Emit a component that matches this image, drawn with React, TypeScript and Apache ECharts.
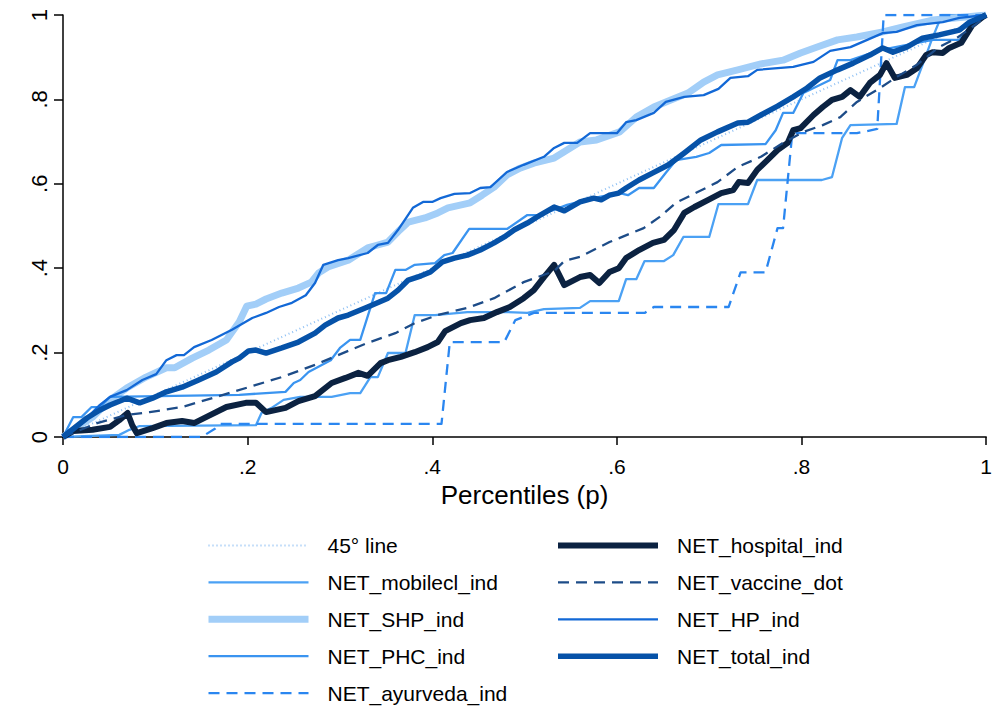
import React, { useEffect, useRef } from "react";
import * as echarts from "echarts";

const xTicks = [0, 0.2, 0.4, 0.6, 0.8, 1];
const yTicks = [0, 0.2, 0.4, 0.6, 0.8, 1];
const xTitle = "Percentiles (p)";

const line45: number[][] = [[0, 0], [1, 1]];

const mobilecl: number[][] = [
  [0, 0], [0.061, 0.005], [0.072, 0.017], [0.083, 0.026], [0.209, 0.028], [0.215, 0.057],
  [0.226, 0.069], [0.239, 0.088], [0.257, 0.095], [0.291, 0.095], [0.311, 0.104], [0.322, 0.104],
  [0.333, 0.142], [0.341, 0.142], [0.352, 0.199], [0.371, 0.199], [0.381, 0.289], [0.403, 0.289],
  [0.438, 0.296], [0.481, 0.296], [0.503, 0.294], [0.521, 0.303], [0.56, 0.306], [0.571, 0.322],
  [0.602, 0.322], [0.61, 0.374], [0.621, 0.374], [0.63, 0.417], [0.651, 0.417], [0.661, 0.431],
  [0.672, 0.474], [0.7, 0.474], [0.71, 0.552], [0.742, 0.552], [0.752, 0.609], [0.822, 0.609],
  [0.833, 0.616], [0.844, 0.709], [0.853, 0.739], [0.903, 0.742], [0.912, 0.829], [0.922, 0.829],
  [0.933, 0.893], [0.941, 0.941], [0.952, 1.0], [1, 1],
];

const shp: number[][] = [
  [0, 0], [0.032, 0.047], [0.051, 0.088], [0.069, 0.116], [0.09, 0.142], [0.112, 0.164],
  [0.121, 0.164], [0.14, 0.187], [0.158, 0.206], [0.177, 0.23], [0.191, 0.273], [0.199, 0.31],
  [0.209, 0.315], [0.22, 0.327], [0.237, 0.341], [0.255, 0.353], [0.269, 0.367], [0.277, 0.389],
  [0.287, 0.403], [0.309, 0.419], [0.33, 0.448], [0.341, 0.455], [0.352, 0.462], [0.365, 0.491],
  [0.374, 0.509], [0.392, 0.519], [0.406, 0.531], [0.417, 0.543], [0.441, 0.555], [0.454, 0.573],
  [0.467, 0.592], [0.481, 0.621], [0.495, 0.637], [0.51, 0.649], [0.532, 0.661], [0.546, 0.68],
  [0.56, 0.699], [0.578, 0.704], [0.603, 0.723], [0.621, 0.758], [0.64, 0.782], [0.659, 0.799],
  [0.677, 0.815], [0.694, 0.841], [0.709, 0.858], [0.731, 0.87], [0.756, 0.884], [0.78, 0.893],
  [0.799, 0.91], [0.817, 0.924], [0.839, 0.941], [0.86, 0.948], [0.888, 0.96], [0.91, 0.972],
  [0.942, 0.988], [0.978, 0.995], [1, 1],
];

const phc: number[][] = [
  [0, 0], [0.011, 0.047], [0.02, 0.047], [0.031, 0.071], [0.04, 0.071], [0.051, 0.095],
  [0.191, 0.1], [0.241, 0.107], [0.25, 0.128], [0.257, 0.135], [0.266, 0.154], [0.29, 0.182],
  [0.3, 0.211], [0.311, 0.23], [0.322, 0.23], [0.338, 0.341], [0.35, 0.341], [0.36, 0.396],
  [0.371, 0.396], [0.381, 0.408], [0.403, 0.412], [0.413, 0.431], [0.422, 0.436], [0.44, 0.493],
  [0.481, 0.493], [0.503, 0.526], [0.517, 0.526], [0.546, 0.55], [0.581, 0.569], [0.603, 0.578],
  [0.612, 0.573], [0.624, 0.59], [0.64, 0.59], [0.653, 0.626], [0.664, 0.656], [0.686, 0.664],
  [0.7, 0.673], [0.713, 0.692], [0.761, 0.694], [0.772, 0.727], [0.78, 0.768], [0.791, 0.768],
  [0.802, 0.815], [0.831, 0.846], [0.839, 0.893], [0.853, 0.893], [0.885, 0.917], [0.942, 0.941],
  [0.971, 0.941], [0.982, 0.972], [1, 1],
];

const ayurveda: number[][] = [
  [0, 0], [0.15, 0], [0.165, 0.02], [0.17, 0.031], [0.41, 0.031], [0.419, 0.225], [0.478, 0.225],
  [0.49, 0.277], [0.51, 0.294], [0.63, 0.294], [0.64, 0.308], [0.721, 0.308], [0.734, 0.39],
  [0.761, 0.39], [0.774, 0.495], [0.78, 0.495], [0.79, 0.72], [0.86, 0.72], [0.882, 0.73],
  [0.889, 1.0], [1, 1],
];

const hospital: number[][] = [
  [0, 0], [0.011, 0.014], [0.032, 0.017], [0.051, 0.024], [0.061, 0.04], [0.07, 0.057],
  [0.075, 0.028], [0.08, 0.009], [0.097, 0.021], [0.112, 0.033], [0.129, 0.038], [0.142, 0.033],
  [0.155, 0.047], [0.177, 0.071], [0.198, 0.081], [0.209, 0.081], [0.22, 0.059], [0.241, 0.069],
  [0.255, 0.085], [0.273, 0.097], [0.291, 0.128], [0.306, 0.14], [0.32, 0.152], [0.33, 0.145],
  [0.344, 0.175], [0.352, 0.182], [0.366, 0.19], [0.381, 0.201], [0.395, 0.213], [0.406, 0.225],
  [0.414, 0.251], [0.431, 0.27], [0.441, 0.277], [0.456, 0.282], [0.47, 0.296], [0.484, 0.308],
  [0.499, 0.329], [0.51, 0.348], [0.521, 0.379], [0.532, 0.408], [0.543, 0.36], [0.56, 0.379],
  [0.571, 0.384], [0.581, 0.365], [0.592, 0.391], [0.602, 0.4], [0.61, 0.424], [0.624, 0.443],
  [0.639, 0.46], [0.651, 0.467], [0.662, 0.491], [0.673, 0.531], [0.684, 0.545], [0.699, 0.562],
  [0.713, 0.578], [0.726, 0.585], [0.732, 0.604], [0.742, 0.602], [0.752, 0.633], [0.763, 0.656],
  [0.774, 0.68], [0.785, 0.697], [0.791, 0.727], [0.799, 0.732], [0.813, 0.763], [0.823, 0.782],
  [0.833, 0.799], [0.844, 0.806], [0.853, 0.822], [0.863, 0.806], [0.874, 0.839], [0.885, 0.858],
  [0.892, 0.886], [0.901, 0.851], [0.914, 0.858], [0.925, 0.874], [0.935, 0.905], [0.942, 0.912],
  [0.953, 0.91], [0.96, 0.922], [0.973, 0.934], [0.985, 0.976], [0.996, 0.995], [1, 1],
];

const vaccine: number[][] = [
  [0, 0], [0.037, 0.033], [0.069, 0.052], [0.094, 0.059], [0.129, 0.071], [0.166, 0.095],
  [0.201, 0.118], [0.237, 0.142], [0.273, 0.171], [0.298, 0.194], [0.33, 0.223], [0.36, 0.246],
  [0.381, 0.27], [0.406, 0.289], [0.438, 0.306], [0.467, 0.329], [0.499, 0.367], [0.532, 0.393],
  [0.543, 0.417], [0.56, 0.427], [0.592, 0.462], [0.629, 0.495], [0.646, 0.521], [0.664, 0.555],
  [0.688, 0.581], [0.709, 0.604], [0.731, 0.64], [0.756, 0.664], [0.78, 0.697], [0.802, 0.723],
  [0.823, 0.739], [0.842, 0.758], [0.86, 0.794], [0.885, 0.827], [0.903, 0.853], [0.925, 0.882],
  [0.949, 0.924], [0.968, 0.945], [0.992, 0.983], [1, 1],
];

const hp: number[][] = [
  [0, 0], [0.016, 0.028], [0.029, 0.052], [0.04, 0.076], [0.051, 0.095], [0.069, 0.111],
  [0.086, 0.135], [0.101, 0.149], [0.112, 0.182], [0.123, 0.194], [0.131, 0.194], [0.142, 0.213],
  [0.161, 0.23], [0.183, 0.254], [0.205, 0.282], [0.22, 0.294], [0.234, 0.308], [0.248, 0.318],
  [0.263, 0.336], [0.273, 0.365], [0.282, 0.408], [0.298, 0.419], [0.309, 0.424], [0.33, 0.436],
  [0.341, 0.455], [0.352, 0.46], [0.363, 0.491], [0.379, 0.543], [0.39, 0.557], [0.4, 0.557],
  [0.409, 0.566], [0.424, 0.576], [0.441, 0.578], [0.452, 0.59], [0.463, 0.592], [0.481, 0.628],
  [0.499, 0.645], [0.521, 0.664], [0.532, 0.685], [0.543, 0.697], [0.557, 0.697], [0.571, 0.72],
  [0.6, 0.72], [0.61, 0.746], [0.621, 0.751], [0.64, 0.768], [0.653, 0.794], [0.673, 0.806],
  [0.694, 0.81], [0.71, 0.825], [0.723, 0.851], [0.742, 0.855], [0.752, 0.87], [0.791, 0.877],
  [0.813, 0.889], [0.831, 0.915], [0.853, 0.924], [0.888, 0.957], [0.903, 0.96], [0.925, 0.976],
  [0.953, 0.983], [0.971, 0.993], [1, 1],
];

const total: number[][] = [
  [0, 0], [0.026, 0.045], [0.04, 0.064], [0.051, 0.076], [0.069, 0.092], [0.083, 0.081],
  [0.097, 0.092], [0.112, 0.107], [0.129, 0.118], [0.147, 0.135], [0.166, 0.154], [0.183, 0.178],
  [0.191, 0.187], [0.201, 0.204], [0.209, 0.206], [0.22, 0.199], [0.237, 0.211], [0.255, 0.225],
  [0.273, 0.246], [0.284, 0.265], [0.298, 0.282], [0.309, 0.289], [0.33, 0.308], [0.352, 0.329],
  [0.363, 0.348], [0.374, 0.372], [0.388, 0.382], [0.398, 0.391], [0.411, 0.415], [0.424, 0.424],
  [0.438, 0.431], [0.452, 0.443], [0.467, 0.46], [0.478, 0.474], [0.489, 0.491], [0.503, 0.507],
  [0.517, 0.526], [0.532, 0.545], [0.543, 0.536], [0.56, 0.557], [0.575, 0.566], [0.583, 0.562],
  [0.592, 0.573], [0.602, 0.578], [0.61, 0.59], [0.624, 0.609], [0.639, 0.626], [0.656, 0.645],
  [0.673, 0.673], [0.691, 0.704], [0.709, 0.723], [0.731, 0.744], [0.742, 0.746], [0.756, 0.763],
  [0.774, 0.784], [0.791, 0.806], [0.806, 0.827], [0.82, 0.851], [0.839, 0.87], [0.856, 0.886],
  [0.874, 0.905], [0.888, 0.922], [0.899, 0.912], [0.914, 0.924], [0.931, 0.945], [0.949, 0.953],
  [0.971, 0.964], [0.982, 0.983], [1, 1],
];

const seriesNames = [
  "45° line", "NET_mobilecl_ind", "NET_SHP_ind", "NET_PHC_ind", "NET_ayurveda_ind",
  "NET_hospital_ind", "NET_vaccine_dot", "NET_HP_ind", "NET_total_ind",
];
const seriesData = [line45, mobilecl, shp, phc, ayurveda, hospital, vaccine, hp, total];
const seriesColors = [
  "#8ec0f4", "#4ba1f4", "#a2cef8", "#3a94f0", "#2a86f0", "#0b2241", "#1d4c88", "#1268d6", "#0652a8",
];
const seriesWidths = [2, 2.3, 7, 2.3, 2.3, 6, 2.3, 2.3, 5.5];
const seriesTypes: any[] = [
  [1, 3], "solid", "solid", "solid", [11, 7], "solid", [11, 7], "solid", "solid",
];

const FONT = "'Liberation Sans', Arial, Helvetica, sans-serif";

function fmt(v: number): string {
  if (v === 0) return "0";
  if (v === 1) return "1";
  return String(Math.round(v * 10) / 10).replace(/^0/, "");
}

export default function App() {
  const ref = useRef<HTMLDivElement>(null);
  useEffect(() => {
    if (!ref.current) return;
    const chart = echarts.init(ref.current, undefined, { renderer: "svg" });
    const series = seriesNames.map((name, i) => ({
      name,
      type: "line",
      data: seriesData[i],
      showSymbol: false,
      symbol: "none",
      smooth: false,
      lineStyle: { color: seriesColors[i], width: seriesWidths[i], type: seriesTypes[i], cap: "butt", join: "round" },
      itemStyle: { color: seriesColors[i] },
      z: 2 + i,
      silent: true,
    }));
    const legendItem = (i: number) => ({
      name: seriesNames[i],
      lineStyle: { color: seriesColors[i], width: seriesWidths[i], type: seriesTypes[i] },
    });
    const legendBase = {
      orient: "vertical",
      padding: 0,
      itemWidth: 100,
      itemHeight: 14,
      itemGap: 15.9,
      height: 200,
      selectedMode: false,
      itemStyle: { opacity: 0 },
      textStyle: { fontFamily: FONT, fontSize: 21, lineHeight: 20, color: "#000", padding: [0, 0, 0, 14] },
    };
    chart.setOption({
      animation: false,
      backgroundColor: "#fff",
      grid: { left: 63, right: 3, top: 15, bottom: 269, containLabel: false },
      xAxis: {
        type: "value",
        min: 0,
        max: 1,
        interval: 0.2,
        name: xTitle,
        nameLocation: "middle",
        nameGap: 35,
        nameTextStyle: { fontFamily: FONT, fontSize: 26, color: "#000", verticalAlign: "top" },
        axisLine: { show: true, lineStyle: { color: "#000", width: 1.5 } },
        axisTick: { show: true, length: 8, lineStyle: { color: "#000", width: 1.5 } },
        axisLabel: {
          fontFamily: FONT, fontSize: 21, color: "#000", margin: 19,
          formatter: (v: number) => fmt(v),
          customValues: xTicks,
        },
        splitLine: { show: false },
      },
      yAxis: {
        type: "value",
        min: 0,
        max: 1,
        interval: 0.2,
        axisLine: { show: true, lineStyle: { color: "#000", width: 1.5 } },
        axisTick: { show: true, length: 9, lineStyle: { color: "#000", width: 1.5 } },
        axisLabel: {
          fontFamily: FONT, fontSize: 22, color: "#000", margin: 13, rotate: 90,
          formatter: (v: number) => fmt(v),
          customValues: yTicks,
        },
        splitLine: { show: false },
      },
      legend: [
        { ...legendBase, left: 205, top: 535, data: [0, 1, 2, 3, 4].map(legendItem) },
        { ...legendBase, left: 555, top: 535, data: [5, 6, 7, 8].map(legendItem) },
      ],
      series,
    });
    return () => chart.dispose();
  }, []);
  return (
    <div
      ref={ref}
      style={{ position: "fixed", left: 0, top: 0, width: 995, height: 706, background: "#fff" }}
    />
  );
}
